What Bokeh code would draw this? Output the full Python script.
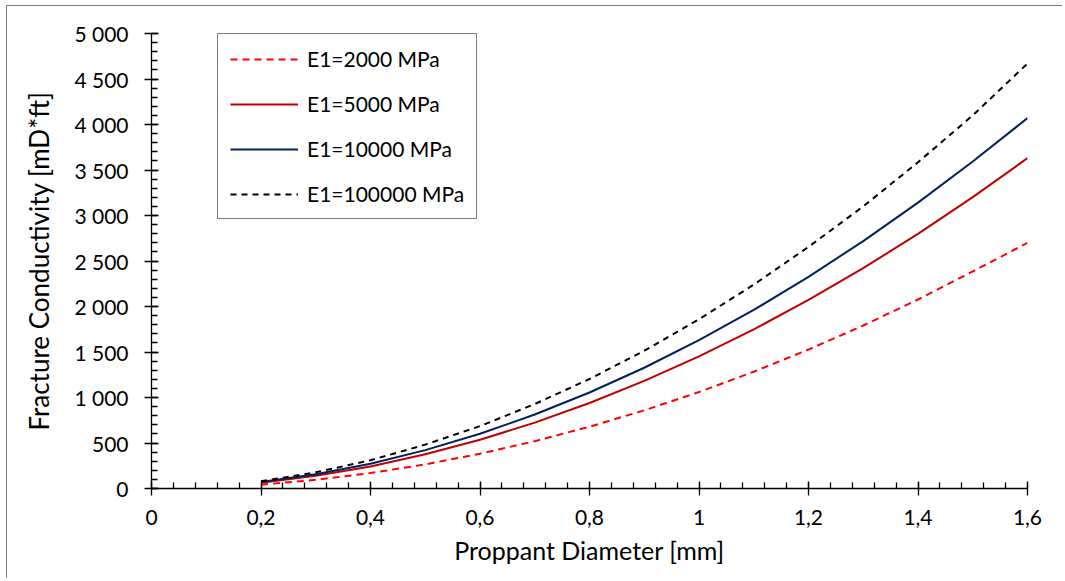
from bokeh.plotting import figure
from bokeh.models import FixedTicker, CustomJSTickFormatter, Legend, LegendItem
from bokeh.embed import file_html
from bokeh.resources import INLINE

# ---- data ----
diameter = [0.2, 0.3, 0.4, 0.5, 0.6, 0.7, 0.8, 0.9, 1.0, 1.1, 1.2, 1.3, 1.4, 1.5, 1.6]
e1_2000 = [42, 95, 170, 265, 382, 520, 679, 859, 1060, 1283, 1527, 1791, 2077, 2385, 2700]
e1_5000 = [63, 139, 242, 376, 536, 724, 939, 1182, 1452, 1748, 2072, 2422, 2798, 3202, 3630]
e1_10000 = [71, 156, 272, 422, 601, 813, 1055, 1327, 1630, 1962, 2326, 2719, 3141, 3594, 4070]
e1_100000 = [81, 178, 311, 482, 686, 928, 1203, 1514, 1860, 2240, 2655, 3100, 3585, 4100, 4670]

series_labels = ["E1=2000 MPa", "E1=5000 MPa", "E1=10000 MPa", "E1=100000 MPa"]
x_ticks = [0, 0.2, 0.4, 0.6, 0.8, 1.0, 1.2, 1.4, 1.6]
x_minor = [round(i * 0.04, 2) for i in range(41)]
y_ticks = list(range(0, 5001, 500))
y_minor = list(range(0, 5001, 100))

FONT = "Lato"

p = figure(width=1056, height=573, x_range=(0, 1.6), y_range=(0, 5000),
           output_backend="svg", toolbar_location=None,
           min_border_left=144, min_border_right=36, min_border_top=27, min_border_bottom=91)
p.styles = {"border-left": "1px solid #7F7F7F", "border-top": "1px solid #7F7F7F",
            "margin-left": "6px", "margin-top": "5px"}
p.outline_line_color = None
p.xgrid.visible = False
p.ygrid.visible = False

r1 = p.line(diameter, e1_2000, line_color="#FF0000", line_width=2, line_dash="7 5")
r2 = p.line(diameter, e1_5000, line_color="#C00000", line_width=2)
r3 = p.line(diameter, e1_10000, line_color="#002060", line_width=2)
r4 = p.line(diameter, e1_100000, line_color="#000000", line_width=2, line_dash="6 5")

p.xaxis.ticker = FixedTicker(ticks=x_ticks, minor_ticks=x_minor)
p.yaxis.ticker = FixedTicker(ticks=y_ticks, minor_ticks=y_minor)
p.xaxis.formatter = CustomJSTickFormatter(code="return (Math.round(tick*10)/10).toString().replace('.', ',');")
p.yaxis.formatter = CustomJSTickFormatter(code="return Math.round(tick).toString().replace(/\\B(?=(\\d{3})+(?!\\d))/g, ' ');")

for ax in (p.xaxis[0], p.yaxis[0]):
    ax.axis_line_color = "black"
    ax.axis_line_width = 1.3
    ax.major_tick_line_color = "black"
    ax.minor_tick_line_color = "black"
    ax.major_tick_line_width = 1.3
    ax.minor_tick_line_width = 1.3
    ax.major_tick_in = 7
    ax.major_tick_out = 7
    ax.minor_tick_in = 6
    ax.minor_tick_out = 0
    ax.major_label_text_font = FONT
    ax.major_label_text_font_size = "21px"
    ax.major_label_text_color = "black"
    ax.axis_label_text_font = FONT
    ax.axis_label_text_font_style = "normal"
    ax.axis_label_text_color = "black"

p.xaxis.axis_label_text_font_size = "25px"
p.yaxis.axis_label_text_font_size = "26px"
p.xaxis.axis_label = "Proppant Diameter [mm]"
p.yaxis.axis_label = "Fracture Conductivity [mD*ft]"
p.xaxis.major_label_standoff = 14
p.yaxis.major_label_standoff = 16
p.xaxis.axis_label_standoff = 7
p.yaxis.axis_label_standoff = 16

legend = Legend(items=[LegendItem(label=series_labels[0], renderers=[r1]),
                       LegendItem(label=series_labels[1], renderers=[r2]),
                       LegendItem(label=series_labels[2], renderers=[r3]),
                       LegendItem(label=series_labels[3], renderers=[r4])],
                location=(66, 269))
legend.border_line_color = "black"
legend.border_line_width = 1.3
legend.background_fill_alpha = 1
legend.padding = 12
legend.spacing = 20
legend.margin = 0
legend.glyph_width = 68
legend.glyph_height = 20
legend.label_height = 20
legend.label_standoff = 9
legend.label_text_font = FONT
legend.label_text_font_size = "21px"
legend.label_text_color = "black"
p.add_layout(legend, "center")

open("out.html", "w").write(file_html(p, INLINE))
